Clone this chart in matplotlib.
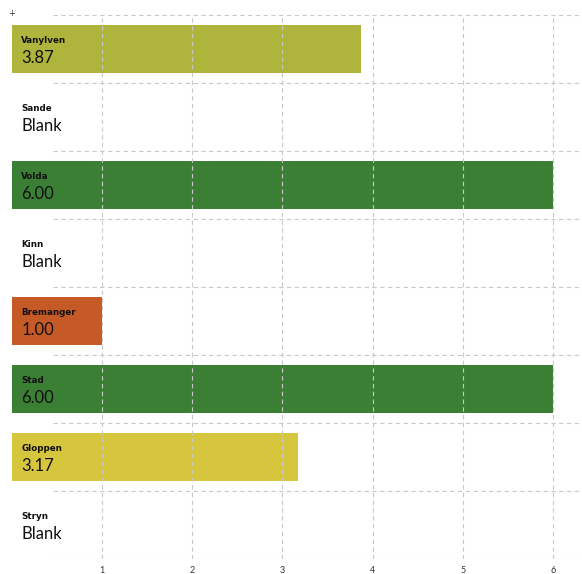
import numpy as np
import matplotlib.pyplot as plt

kommuner = ['Vanylven', 'Sande', 'Volda', 'Kinn', 'Bremanger', 'Stad', 'Gloppen', 'Stryn']
verdier = [3.87, None, 6.00, None, 1.00, 6.00, 3.17, None]
fargar = ['#afb43c', None, '#3b7f35', None, '#c65a26', '#3b7f35', '#d6c63e', None]
xticks = [1, 2, 3, 4, 5, 6]

fig = plt.figure(figsize=(5.82, 5.74), dpi=100)
ax = fig.add_axes([12.2 / 582, 15 / 574, 569.8 / 582, 544 / 574])

for i, (namn, v, c) in enumerate(zip(kommuner, verdier, fargar)):
    if v is not None:
        ax.barh(i, v, height=0.71, color=c, zorder=1)
        txt = '%.2f' % v
    else:
        txt = 'Blank'
    ax.text(0.1, i - 0.13, namn, fontsize=6.3, fontweight='bold', family='DejaVu Sans',
            color='#111111', va='center', ha='left', zorder=3)
    ax.text(0.1, i + 0.13, txt, fontsize=12, family='Lato', color='#111111',
            va='center', ha='left', zorder=3)

ax.set_xlim(0, 569.8 / 90.1)
ax.set_ylim(len(kommuner) - 0.5, -0.5)

# grid
for x in xticks:
    ax.axvline(x, color='#c8c8c8', lw=0.8, ls=(0, (4, 3)), zorder=2)
for y in np.arange(-0.5, len(kommuner), 1.0):
    ax.axhline(y, xmin=41 / 570, xmax=1, color='#c8c8c8', lw=0.8, ls=(0, (4, 3)), zorder=2)

ax.set_xticks(xticks)
ax.set_xticklabels([str(x) for x in xticks], fontsize=6.5, color='#333333', family='Lato')
ax.tick_params(axis='x', length=0, pad=5)
ax.set_yticks([])
for s in ax.spines.values():
    s.set_visible(False)

fig.text(12 / 582, 1 - 14 / 574, '+', fontsize=6, ha='center', va='center', color='#333333')

plt.savefig('out.png', dpi=100)
